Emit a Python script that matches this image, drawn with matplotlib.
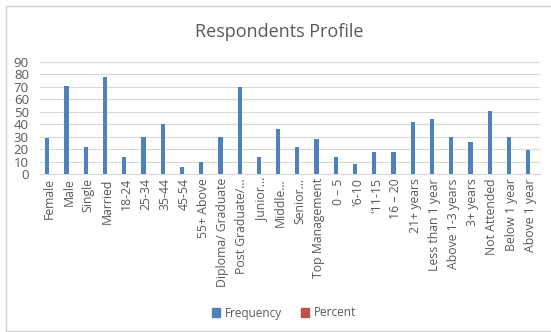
import matplotlib
matplotlib.use("Agg")
import matplotlib.pyplot as plt
import numpy as np
from matplotlib.patches import Rectangle, Patch

categories = ["Female", "Male", "Single", "Married", "18-24", "25-34", "35-44", "45-54",
              "55+ Above", "Diploma/ Graduate", "Post Graduate/...", "Junior...", "Middle...",
              "Senior...", "Top Management", "0 \u2013 5", "'6-10", "'11-15", "16 \u2013 20",
              "21+ years", "Less than 1 year", "Above 1-3 years", "3+ years", "Not Attended",
              "Below 1 year", "Above 1 year"]
frequency = [29, 71, 22, 78, 14, 30, 40, 6, 10, 30, 70, 14, 36, 22, 28, 14, 8, 18, 18, 42,
             44, 30, 26, 51, 30, 19]
series_names = ["Frequency", "Percent"]
yticks = [0, 10, 20, 30, 40, 50, 60, 70, 80, 90]

plt.rcParams['font.family'] = ['Open Sans', 'DejaVu Sans']
W, H = 551, 332
fig = plt.figure(figsize=(W / 100, H / 100), dpi=100)

# chart area border
fig.patches.append(Rectangle((6 / W, 1 / H), 1.2, (H - 7) / H, transform=fig.transFigure,
                             fill=False, edgecolor='#D0D0D0', linewidth=1.0))

ax = fig.add_axes([40 / W, 1 - 174 / H, 500 / W, 112 / H])
x = np.arange(len(categories))
blue = '#4F81BD'
red = '#C0504D'
ax.bar(x - 0.12, frequency, width=0.22, color=blue, zorder=3)
ax.set_xlim(-0.5, len(categories) - 0.5)
ax.set_ylim(0, 90)
ax.set_yticks(yticks)
ax.set_yticklabels([str(v) for v in yticks], fontsize=9.5, color='#595959')
ax.set_xticks(x)
ax.set_xticklabels(categories, rotation=90, fontsize=8.8, color='#595959')
ax.tick_params(axis='both', length=0, pad=3)
ax.tick_params(axis='y', pad=8)
ax.grid(axis='y', color='#D9D9D9', linewidth=0.8, zorder=0)
for s in ['top', 'right', 'left']:
    ax.spines[s].set_visible(False)
ax.spines['bottom'].set_color('#D9D9D9')
ax.spines['bottom'].set_linewidth(0.8)

fig.text(279 / W, 1 - 32 / H, 'Respondents Profile', ha='center', va='center',
         fontsize=13, color='#595959')

handles = [Patch(color=blue), Patch(color=red)]
fig.legend(handles, series_names, loc='center', bbox_to_anchor=(284 / W, 1 - 313 / H), ncol=2,
           frameon=False, fontsize=8.5, handlelength=0.7, handleheight=0.7, handletextpad=0.4,
           columnspacing=1.6, labelcolor='#595959')

fig.savefig('out.png', dpi=100)
